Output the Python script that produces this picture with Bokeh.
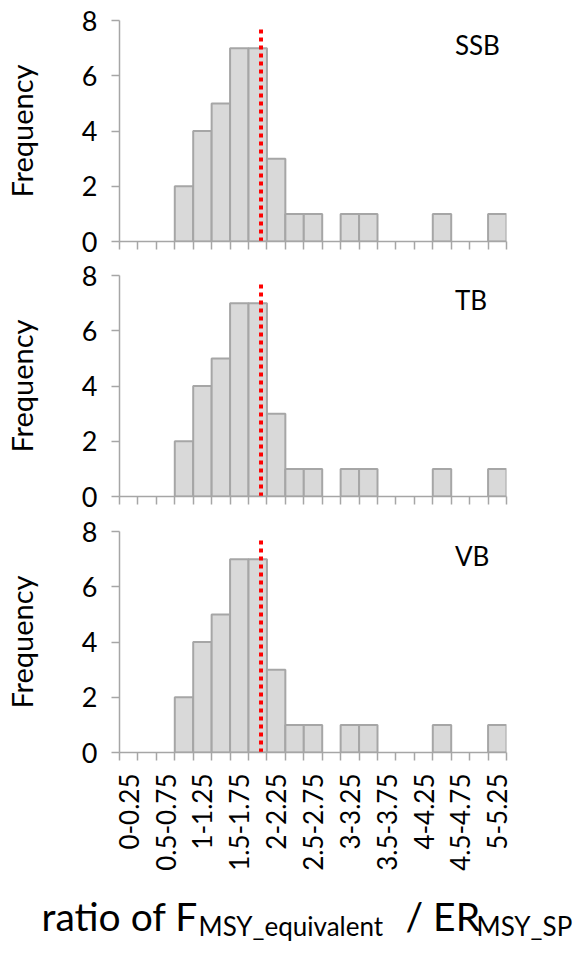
import numpy as np
from bokeh.plotting import figure
from bokeh.layouts import column
from bokeh.models import FixedTicker, Range1d, ColumnDataSource, Label
from bokeh.core.properties import value
from bokeh.embed import file_html
from bokeh.resources import INLINE

# ---------------- data ----------------
bin_labels = ["0-0.25", "0.25-0.5", "0.5-0.75", "0.75-1", "1-1.25", "1.25-1.5",
              "1.5-1.75", "1.75-2", "2-2.25", "2.25-2.5", "2.5-2.75", "2.75-3",
              "3-3.25", "3.25-3.5", "3.5-3.75", "3.75-4", "4-4.25", "4.25-4.5",
              "4.5-4.75", "4.75-5", "5-5.25"]
bin_lo = [0.0, 0.25, 0.5, 0.75, 1.0, 1.25, 1.5, 1.75, 2.0, 2.25, 2.5, 2.75,
          3.0, 3.25, 3.5, 3.75, 4.0, 4.25, 4.5, 4.75, 5.0]
bin_hi = [0.25, 0.5, 0.75, 1.0, 1.25, 1.5, 1.75, 2.0, 2.25, 2.5, 2.75, 3.0,
          3.25, 3.5, 3.75, 4.0, 4.25, 4.5, 4.75, 5.0, 5.25]
ssb_counts = [0, 0, 0, 2, 4, 5, 7, 7, 3, 1, 1, 0, 1, 1, 0, 0, 0, 1, 0, 0, 1]
tb_counts  = [0, 0, 0, 2, 4, 5, 7, 7, 3, 1, 1, 0, 1, 1, 0, 0, 0, 1, 0, 0, 1]
vb_counts  = [0, 0, 0, 2, 4, 5, 7, 7, 3, 1, 1, 0, 1, 1, 0, 0, 0, 1, 0, 0, 1]
panel_names = ["SSB", "TB", "VB"]
ref_ratio = 1.92
ref_top = 7.82
y_ticks = [0, 2, 4, 6, 8]
title_parts = ["ratio of F", "MSY_equivalent", "/ ER", "MSY_SP"]

FONT = "Lato"
AXIS_GRAY = "#a6a6a6"
LEFT = 119
RIGHT = 60
W = LEFT + 387 + RIGHT


def make_panel(name, counts, show_labels, h_top, h_bottom):
    p = figure(width=W, height=h_top + 221 + h_bottom, output_backend="svg",
               toolbar_location=None, x_range=Range1d(bin_lo[0], bin_hi[-1]),
               y_range=Range1d(0, 8),
               min_border_left=LEFT, min_border_right=RIGHT,
               min_border_top=h_top, min_border_bottom=h_bottom)
    p.outline_line_color = None
    p.grid.visible = False
    p.background_fill_color = "white"
    p.border_fill_color = "white"

    keep = [i for i, c in enumerate(counts) if c > 0]
    src = ColumnDataSource(dict(left=[bin_lo[i] for i in keep],
                                right=[bin_hi[i] for i in keep],
                                top=[counts[i] for i in keep]))
    p.quad(left="left", right="right", bottom=0, top="top", source=src,
           fill_color="#d9d9d9", line_color=AXIS_GRAY, line_width=2)

    p.segment(x0=[ref_ratio], y0=[0], x1=[ref_ratio], y1=[ref_top],
              line_color="#ff0000", line_width=4, line_dash="4 4")

    p.add_layout(Label(x=4.55, y=7.1, text=name, text_font=FONT,
                       text_font_size="26px", text_color="black",
                       text_baseline="alphabetic"))

    # y axis
    yax = p.yaxis[0]
    yax.ticker = FixedTicker(ticks=y_ticks)
    yax.axis_line_color = AXIS_GRAY
    yax.axis_line_width = 1.5
    yax.major_tick_line_color = AXIS_GRAY
    yax.major_tick_line_width = 1.5
    yax.major_tick_out = 8
    yax.major_tick_in = 0
    yax.minor_tick_line_color = None
    yax.major_label_text_font = FONT
    yax.major_label_text_font_size = "27px"
    yax.major_label_text_color = "black"
    yax.major_label_standoff = 14
    yax.axis_label = "Frequency"
    yax.axis_label_text_font = FONT
    yax.axis_label_text_font_size = "29px"
    yax.axis_label_text_font_style = "normal"
    yax.axis_label_text_color = "black"
    yax.axis_label_standoff = 40

    # x axis
    xax = p.xaxis[0]
    centers = [(bin_lo[i] + bin_hi[i]) / 2 for i in range(0, len(bin_lo), 2)]
    if show_labels:
        xax.ticker = FixedTicker(ticks=centers, minor_ticks=bin_lo + [bin_hi[-1]])
        xax.major_label_overrides = {c: bin_labels[i * 2] for i, c in enumerate(centers)}
        xax.major_label_orientation = np.pi / 2
        xax.major_label_text_font = FONT
        xax.major_label_text_font_size = "26px"
        xax.major_label_text_color = "black"
        xax.major_label_standoff = 13
    else:
        xax.ticker = FixedTicker(ticks=[], minor_ticks=bin_lo + [bin_hi[-1]])
        xax.major_label_text_font_size = "0px"
    xax.axis_line_color = AXIS_GRAY
    xax.axis_line_width = 1.5
    xax.major_tick_line_color = None
    xax.major_tick_out = 0
    xax.major_tick_in = 0
    xax.minor_tick_line_color = AXIS_GRAY
    xax.minor_tick_line_width = 1.5
    xax.minor_tick_out = 8
    xax.minor_tick_in = 0
    return p


p1 = make_panel(panel_names[0], ssb_counts, False, 20, 17)
p2 = make_panel(panel_names[1], tb_counts, False, 17, 17)
p3 = make_panel(panel_names[2], vb_counts, True, 18, 128)
panels = column(p1, p2, p3, spacing=0)

# x-axis title with subscripts: a separate root figure (not frame-aligned)
TW = 575
TH = 62
pt = figure(width=TW, height=TH, output_backend="svg", toolbar_location=None,
            x_range=Range1d(0, TW), y_range=Range1d(0, TH),
            x_axis_location=None, y_axis_location=None,
            min_border_left=0, min_border_right=0,
            min_border_top=0, min_border_bottom=0)
pt.grid.visible = False
pt.outline_line_color = None
title_x = [41, 198, 405, 476]
title_y = [27, 17, 27, 17]
title_fs = ["39px", "26px", "39px", "26px"]
for txt, tx, ty, fs in zip(title_parts, title_x, title_y, title_fs):
    pt.text(x=[tx], y=[ty], text=[txt], text_font=value(FONT),
            text_font_size=fs, text_color="black", text_baseline="alphabetic",
            text_align="left")

open("out.html", "w").write(file_html([panels, pt], INLINE))
